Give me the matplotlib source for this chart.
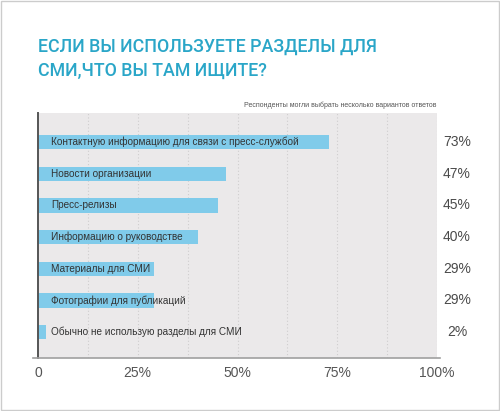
import matplotlib.pyplot as plt
from matplotlib.patches import Rectangle

plt.rcParams['font.family'] = ['Liberation Sans', 'DejaVu Sans']

# Données
categories = [
    'Контактную информацию для связи с пресс-службой',
    'Новости организации',
    'Пресс-релизы',
    'Информацию о руководстве',
    'Материалы для СМИ',
    'Фотографии для публикаций',
    'Обычно не использую разделы для СМИ',
]
valeurs = [73, 47, 45, 40, 29, 29, 2]
ticks = [0, 25, 50, 75, 100]
tick_labels = ['0', '25%', '50%', '75%', '100%']

bleu_titre = '#2aa6c8'
bleu_barre = '#80cbea'
fond = '#ebe9ea'

fig = plt.figure(figsize=(5, 4.11), dpi=100)
ax = fig.add_axes([0.076, 0.129, 0.798, 0.596])
ax.set_facecolor(fond)

n = len(categories)
pos = [n - 1 - i for i in range(n)]
ax.barh(pos, valeurs, height=0.45, color=bleu_barre, zorder=2)

for p, cat, v in zip(pos, categories, valeurs):
    ax.text(3.3, p, cat, va='center', ha='left', fontsize=7.2, color='#333333', zorder=3)
    ax.text(105, p, f'{v}%', va='center', ha='center', fontsize=10, color='#4a4a4a',
            clip_on=False)

ax.set_xlim(0, 100)
ax.set_ylim(-0.82, n - 0.08)

# grille pointillée tous les 12.5%
for x in [12.5 * k for k in range(1, 9)]:
    ax.axvline(x, color='#cfcdce', linestyle=(0, (1, 2)), linewidth=0.8, zorder=1)

ax.set_xticks(ticks)
ax.set_xticklabels(tick_labels, fontsize=10, color='#555555')
ax.tick_params(axis='x', length=0, pad=6)
ax.set_yticks([])
for s in ['top', 'right']:
    ax.spines[s].set_visible(False)
ax.spines['left'].set_color('#555555')
ax.spines['left'].set_linewidth(1.4)
ax.spines['bottom'].set_color('#a0a0a0')
ax.spines['bottom'].set_linewidth(1.2)
ax.spines['bottom'].set_bounds(-1.2, 100.8)

fig.text(0.076, 0.857, 'ЕСЛИ ВЫ ИСПОЛЬЗУЕТЕ РАЗДЕЛЫ ДЛЯ\nСМИ,ЧТО ВЫ ТАМ ИЩИТЕ?',
         fontsize=12.8, color=bleu_titre, fontweight='medium', ha='left', va='center',
         linespacing=1.45, family=['Roboto', 'DejaVu Sans'])
fig.text(0.874, 0.743, 'Респонденты могли выбрать несколько вариантов ответов',
         fontsize=5, color='#555555', ha='right', va='center')

fig.patches.append(Rectangle((0.002, 0.002), 0.996, 0.996, transform=fig.transFigure,
                             fill=False, edgecolor='#cccccc', linewidth=1))

fig.savefig('out.png', dpi=100)
